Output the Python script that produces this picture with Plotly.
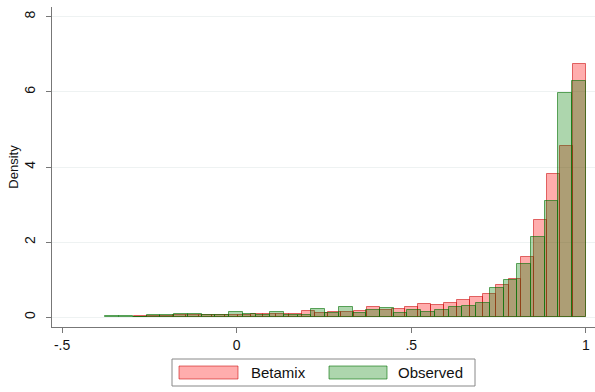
import plotly.graph_objects as go

# Observed histogram (35 bins from -0.376 to 1.0)
obs_start = -0.376
obs_end = 1.0
obs_density = [0.02, 0.02, 0.01, 0.07, 0.05, 0.09, 0.08, 0.06, 0.07, 0.14,
               0.08, 0.07, 0.13, 0.05, 0.07, 0.22, 0.10, 0.27, 0.12, 0.19,
               0.24, 0.12, 0.20, 0.14, 0.20, 0.28, 0.30, 0.38, 0.77, 1.00,
               1.42, 2.13, 3.09, 5.97, 6.29]

# Betamix histogram (35 bins from -0.293 to 1.0)
beta_start = -0.293
beta_end = 1.0
beta_density = [0.03, 0.04, 0.04, 0.05, 0.05, 0.06, 0.06, 0.07, 0.07, 0.08,
                0.08, 0.09, 0.09, 0.17, 0.12, 0.13, 0.15, 0.17, 0.26, 0.20,
                0.23, 0.28, 0.36, 0.32, 0.38, 0.45, 0.53, 0.62, 0.86, 1.03,
                1.60, 2.59, 3.81, 4.56, 6.74]

x_tickvals = [-0.5, 0, 0.5, 1]
x_ticktext = ["-.5", "0", ".5", "1"]
y_tickvals = [0, 2, 4, 6, 8]
y_ticktext = ["0", "2", "4", "6", "8"]
legend_labels = ["Betamix", "Observed"]


def centers(start, end, n):
    w = (end - start) / n
    return [start + w * (i + 0.5) for i in range(n)], w


bx, bw = centers(beta_start, beta_end, len(beta_density))
ox, ow = centers(obs_start, obs_end, len(obs_density))

RED_FILL = "rgba(255,0,0,0.32)"
RED_LINE = "rgba(200,0,0,0.55)"
GRN_FILL = "rgba(0,128,0,0.32)"
GRN_LINE = "rgba(0,110,0,0.6)"

fig = go.Figure()
fig.add_trace(go.Bar(x=bx, y=beta_density, width=bw, name=legend_labels[0],
                     marker=dict(color=RED_FILL, line=dict(color=RED_LINE, width=1)),
                     showlegend=False))
fig.add_trace(go.Bar(x=ox, y=obs_density, width=ow, name=legend_labels[1],
                     marker=dict(color=GRN_FILL, line=dict(color=GRN_LINE, width=1)),
                     showlegend=False))

FONT = "Liberation Sans, Arial, sans-serif"

fig.update_layout(
    width=595, height=392,
    margin=dict(l=52, r=0, t=7, b=65),
    paper_bgcolor="white", plot_bgcolor="white",
    barmode="overlay", bargap=0,
    font=dict(family=FONT, size=14, color="#111"),
    xaxis=dict(range=[-0.529, 1.026], tickvals=x_tickvals, ticktext=x_ticktext,
               showline=True, linecolor="#777", linewidth=1.2,
               ticks="outside", ticklen=5, tickcolor="#777",
               showgrid=False, zeroline=False,
               tickfont=dict(size=14, family=FONT)),
    yaxis=dict(range=[-0.26, 8.26], tickvals=y_tickvals, ticktext=y_ticktext,
               showline=True, linecolor="#777", linewidth=1.2,
               ticks="outside", ticklen=5, tickcolor="#777",
               showgrid=True, gridcolor="#eef2f2", gridwidth=1,
               zeroline=False, tickangle=-90, ticklabelstandoff=5,
               tickfont=dict(size=14, family=FONT),
               title=dict(text="Density", font=dict(size=13, family=FONT), standoff=0)),
)

# Legend box drawn below plot (in paper coordinates)
PW, PH = 543.0, 320.0


def px(xp):
    return (xp - 52) / PW


def py(yp):
    return (327 - yp) / PH


fig.add_shape(type="rect", xref="paper", yref="paper",
              x0=px(172), x1=px(475), y0=py(386), y1=py(359),
              line=dict(color="#888", width=1), fillcolor="white", layer="above")
fig.add_shape(type="rect", xref="paper", yref="paper",
              x0=px(179), x1=px(238), y0=py(379), y1=py(366),
              line=dict(color=RED_LINE, width=1), fillcolor=RED_FILL)
fig.add_shape(type="rect", xref="paper", yref="paper",
              x0=px(329), x1=px(387), y0=py(379), y1=py(366),
              line=dict(color=GRN_LINE, width=1), fillcolor=GRN_FILL)
fig.add_annotation(xref="paper", yref="paper", x=px(249), y=py(372.5),
                   text=legend_labels[0], showarrow=False, xanchor="left", yanchor="middle",
                   font=dict(size=15, family=FONT, color="#111"))
fig.add_annotation(xref="paper", yref="paper", x=px(396), y=py(372.5),
                   text=legend_labels[1], showarrow=False, xanchor="left", yanchor="middle",
                   font=dict(size=15, family=FONT, color="#111"))

fig.write_html("out.html")
